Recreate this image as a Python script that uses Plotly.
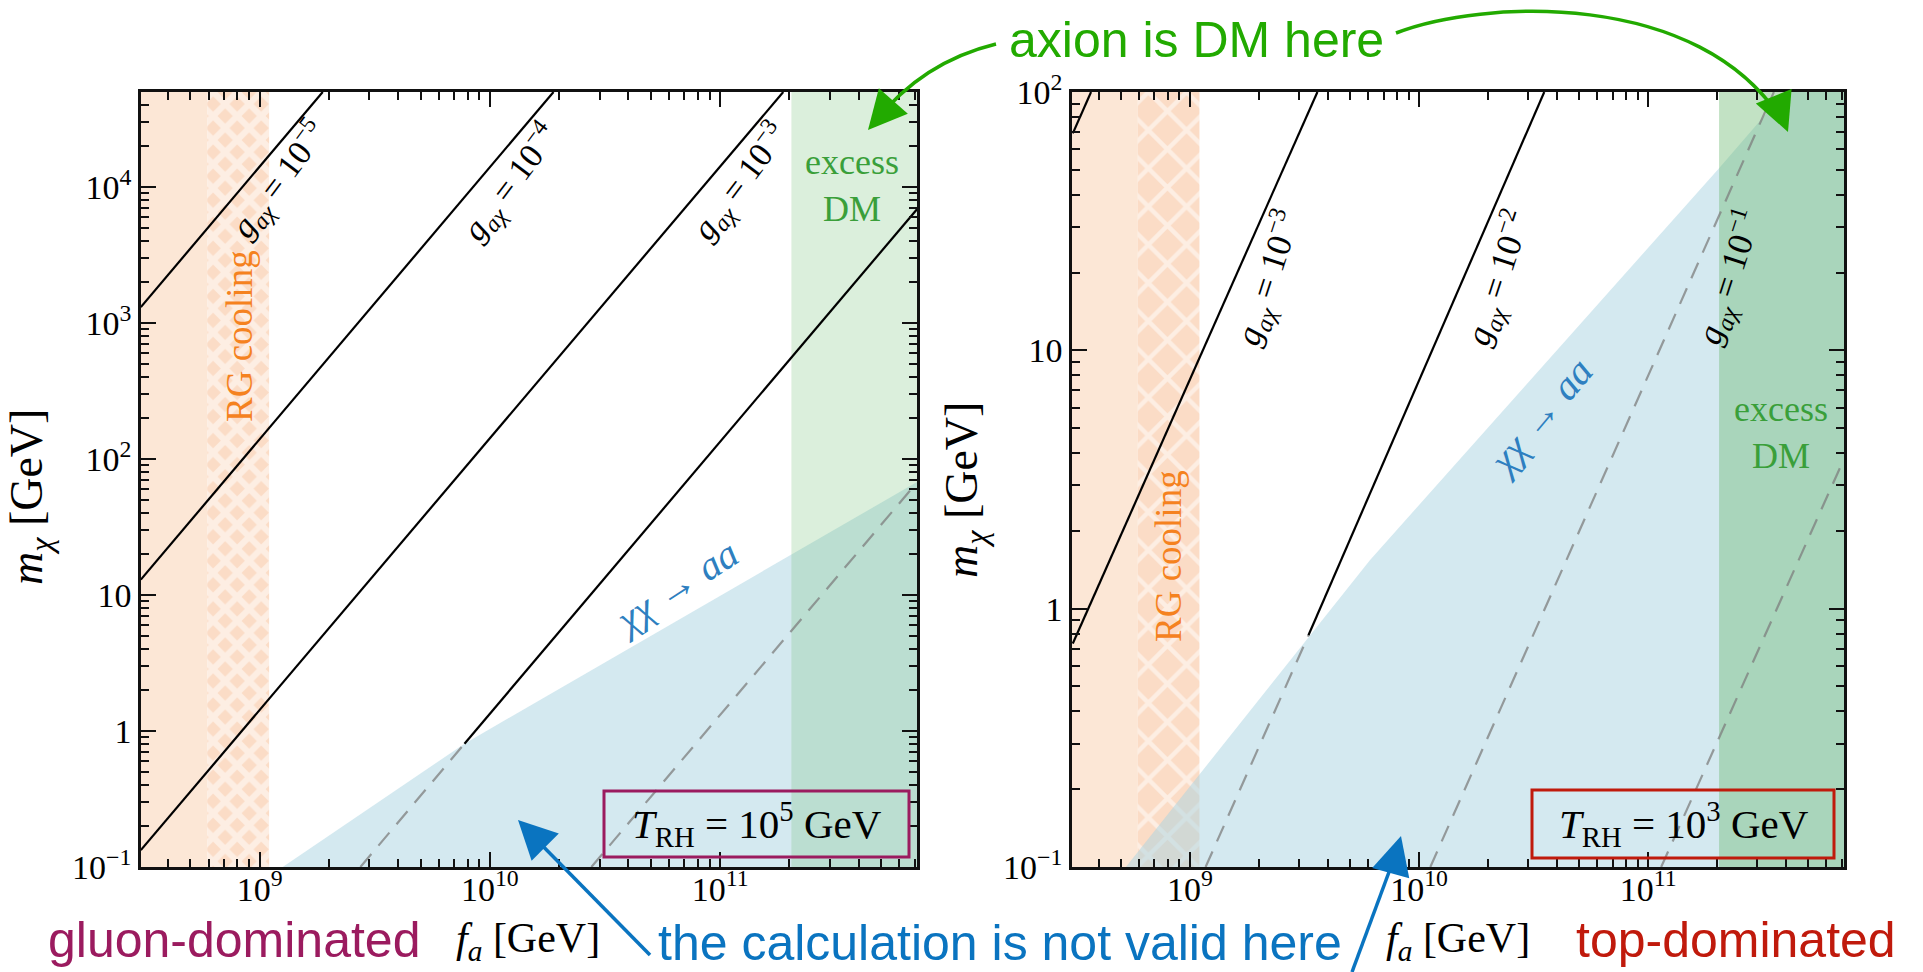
import plotly.graph_objects as go

W, H = 1923, 972

# ---------------- data (GeV units) ----------------
FA_MIN, FA_MAX = 10**8.485, 10**11.855
L_MMIN, L_MMAX = 0.1, 5.0e4
R_MMIN, R_MMAX = 0.1, 100.0

x_tickvals = [1e9, 1e10, 1e11]
x_ticktext = ["10<sup>9</sup>", "10<sup>10</sup>", "10<sup>11</sup>"]
yL_tickvals = [0.1, 1, 10, 100, 1000, 10000]
yL_ticktext = ["10<sup>−1</sup>", "1", "10", "10<sup>2</sup>", "10<sup>3</sup>", "10<sup>4</sup>"]
yR_tickvals = [0.1, 1, 10, 100]
yR_ticktext = ["10<sup>−1</sup>", "1", "10", "10<sup>2</sup>"]

# shaded bands (f_a boundaries)
rg_solid_fa = [FA_MIN, 5.92e8]
rg_hatch_fa = [5.92e8, 1.10e9]
excess_fa = [2.04e11, FA_MAX]

# chi chi -> a a region boundary
blueL_fa = [1.26e9, 7.76e9, 7.16e11, 7.16e11]
blueL_m = [0.1, 0.807, 67.8, 0.1]
blueR_fa = [5.25e8, 6.10e9, 2.04e11, 3.96e11, 7.16e11, 7.16e11]
blueR_m = [0.1, 1.54, 50.7, 100.0, 100.0, 0.1]

# g_{a chi} contours, left panel (T_RH = 1e5 GeV)
left_solid = [
    ([3.05e8, 1.88e9], [1.31e3, 5.0e4]),      # 1e-5
    ([3.05e8, 1.89e10], [13.0, 5.0e4]),       # 1e-4
    ([3.05e8, 1.88e11], [0.133, 5.0e4]),      # 1e-3
    ([7.76e9, 7.16e11], [0.807, 6.87e3]),     # 1e-2
]
left_dashed = [
    ([2.74e9, 7.76e9], [0.1, 0.807]),         # 1e-2
    ([2.76e10, 7.16e11], [0.1, 67.3]),        # 1e-1
]
# right panel (T_RH = 1e3 GeV)
right_solid = [
    ([3.08e8, 3.70e8], [69.2, 100.0]),        # 1e-4
    ([3.08e8, 3.60e9], [0.733, 100.0]),       # 1e-3
    ([3.29e9, 3.52e10], [0.789, 100.0]),      # 1e-2
]
right_dashed = [
    ([1.17e9, 3.29e9], [0.1, 0.789]),         # 1e-2
    ([1.12e10, 3.54e11], [0.1, 100.0]),       # 1e-1
    ([1.14e11, 7.16e11], [0.1, 3.8]),         # 1
]

# ---------------- styles ----------------
SERIF = "Liberation Serif"
SANS = "Liberation Sans"
PEACH = "#fce7d6"
PEACH_H = "#fbdcc6"
BLUE_FILL = "rgba(170,212,226,0.5)"
GREEN_L = "rgba(110,190,115,0.25)"
GREEN_R = "rgba(110,185,115,0.42)"
ORANGE = "#f5821f"
DMGREEN = "#3a9f3a"
CHIBLUE = "#2e7fc0"
ANN_GREEN = "#22aa00"
ANN_BLUE = "#0a74c0"
MAROON = "#9b1b5f"
RED = "#c01a0c"

fig = go.Figure()


def rect(xa, ya, x0, x1, y0, y1, color, pattern=None):
    kw = dict(x=[x0, x1, x1, x0, x0], y=[y0, y0, y1, y1, y0], xaxis=xa, yaxis=ya,
              mode="lines", line=dict(width=0), fill="toself", fillcolor=color,
              hoverinfo="skip", showlegend=False)
    if pattern:
        kw["fillpattern"] = pattern
    fig.add_trace(go.Scatter(**kw))


def poly(xa, ya, xs, ys, color):
    fig.add_trace(go.Scatter(x=xs + [xs[0]], y=ys + [ys[0]], xaxis=xa, yaxis=ya, mode="lines",
                             line=dict(width=0), fill="toself", fillcolor=color,
                             hoverinfo="skip", showlegend=False))


def seg(xa, ya, xs, ys, dashed=False):
    fig.add_trace(go.Scatter(x=xs, y=ys, xaxis=xa, yaxis=ya, mode="lines",
                             line=dict(color="rgba(125,125,125,0.75)" if dashed else "black",
                                       width=2.2, dash="17px,11px" if dashed else "solid"),
                             hoverinfo="skip", showlegend=False))


for xa, ya, ymin, ymax, bfa, bm, gcol, hsize, sol in [
    ("x", "y", L_MMIN, L_MMAX, blueL_fa, blueL_m, GREEN_L, 17, 0.6),
    ("x2", "y2", R_MMIN, R_MMAX, blueR_fa, blueR_m, GREEN_R, 27, 0.3),
]:
    rect(xa, ya, rg_solid_fa[0], rg_solid_fa[1], ymin, ymax, PEACH)
    rect(xa, ya, rg_hatch_fa[0], rg_hatch_fa[1], ymin, ymax, PEACH_H,
         pattern=dict(shape="x", bgcolor=PEACH_H, fgcolor="white", size=hsize, solidity=sol))
    poly(xa, ya, bfa, bm, BLUE_FILL)
    rect(xa, ya, excess_fa[0], excess_fa[1], ymin, ymax, gcol)

for xs, ys in left_dashed:
    seg("x", "y", xs, ys, dashed=True)
for xs, ys in left_solid:
    seg("x", "y", xs, ys)
for xs, ys in right_dashed:
    seg("x2", "y2", xs, ys, dashed=True)
for xs, ys in right_solid:
    seg("x2", "y2", xs, ys)

# ---------------- axes ----------------
minor_x = [m * 10**k for k in range(8, 12) for m in range(2, 10)]
minor_yL = [m * 10**k for k in range(-1, 5) for m in range(2, 10)]
minor_yR = [m * 10**k for k in range(-1, 2) for m in range(2, 10)]


def axis(domain, anchor, rng, tv, tt, minor_vals, standoff=0):
    return dict(type="log", domain=domain, anchor=anchor, range=rng,
                tickmode="array", tickvals=tv, ticktext=tt,
                ticks="inside", ticklen=15, tickwidth=2, tickcolor="#111",
                minor=dict(tickmode="array", tickvals=minor_vals, ticks="inside",
                           ticklen=8, tickwidth=1.6, tickcolor="#111", showgrid=False),
                showline=True, linecolor="#111", linewidth=2.5, mirror="allticks",
                showgrid=False, zeroline=False, automargin=False, layer="above traces",
                ticklabelstandoff=standoff,
                tickfont=dict(family=SERIF, size=34, color="black"), fixedrange=True)


YDOM = [1 - 867 / H, 1 - 92 / H]
XR = [8.485, 11.855]
fig.update_layout(
    xaxis=axis([141 / W, 917 / W], "y", XR, x_tickvals, x_ticktext, minor_x, -10),
    yaxis=axis(YDOM, "x", [-1, 4.699], yL_tickvals, yL_ticktext, minor_yL),
    xaxis2=axis([1072 / W, 1844 / W], "y2", XR, x_tickvals, x_ticktext, minor_x, -10),
    yaxis2=axis(YDOM, "x2", [-1, 2], yR_tickvals, yR_ticktext, minor_yR),
)


def P(x, y):
    return x / W, 1 - y / H


anns = []


def text(x, y, s, size, color="black", family=SERIF, angle=0, **kw):
    px, py = P(x, y)
    anns.append(dict(x=px, y=py, xref="paper", yref="paper", text=s, showarrow=False,
                     textangle=angle, xanchor="center", yanchor="middle",
                     font=dict(family=family, size=size, color=color), **kw))


G = "<i>g</i><sub><i>aχ</i></sub> = 10<sup>−%s</sup>"
text(279, 180, G % "5", 34, angle=-53)
text(511, 182, G % "4", 34, angle=-53)
text(740, 182, G % "3", 34, angle=-53)
text(1267, 278, G % "3", 35, angle=-72)
text(1497, 278, G % "2", 35, angle=-72)
text(1728, 277, G % "1", 35, angle=-72)

text(239, 336, "RG cooling", 37, ORANGE, angle=-90)
text(1168, 556, "RG cooling", 37, ORANGE, angle=-90)
text(852, 186, "excess<br>DM", 36, DMGREEN)
text(1781, 432, "excess<br>DM", 36, DMGREEN)
text(675, 587, "<i>χχ</i> → <i>aa</i>", 40, CHIBLUE, angle=-33)
text(1539, 417, "<i>χχ</i> → <i>aa</i>", 40, CHIBLUE, angle=-50)

text(757, 824, "<i>T</i><sub>RH</sub> = 10<sup>5</sup> GeV", 41)
text(1684, 824, "<i>T</i><sub>RH</sub> = 10<sup>3</sup> GeV", 41)

text(528, 941, "<i>f</i><sub><i>a</i></sub> [GeV]", 42)
text(1458, 941, "<i>f</i><sub><i>a</i></sub> [GeV]", 42)
text(30, 497, "<i>m</i><sub><i>χ</i></sub> [GeV]", 46, angle=-90)
text(965, 490, "<i>m</i><sub><i>χ</i></sub> [GeV]", 46, angle=-90)

text(234, 940, "gluon-dominated", 50, MAROON, SANS)
text(1000, 943, "the calculation is not valid here", 50, ANN_BLUE, SANS)
text(1736, 940, "top-dominated", 50, RED, SANS)
text(1196, 40, "axion is DM here", 50, ANN_GREEN, SANS)


def head(x, y, ax, ay, color):
    px, py = P(x, y)
    anns.append(dict(x=px, y=py, xref="paper", yref="paper", text="", showarrow=True,
                     ax=ax, ay=ay, arrowhead=2, arrowsize=2.2, arrowwidth=3.5,
                     arrowcolor=color, standoff=0))


head(868, 130, 14, -16, ANN_GREEN)
head(1788, 132, -8, -20, ANN_GREEN)
head(518, 820, 14, 14, ANN_BLUE)
head(1401, 836, -5, 18, ANN_BLUE)


def pp(x, y):
    a, b = P(x, y)
    return "%.5f,%.5f" % (a, b)


shapes = [
    dict(type="path", xref="paper", yref="paper",
         path="M" + pp(996, 44) + " Q" + pp(922, 62) + " " + pp(875, 122),
         line=dict(color=ANN_GREEN, width=3.5)),
    dict(type="path", xref="paper", yref="paper",
         path="M" + pp(1396, 33) + " C" + pp(1480, 0) + " " + pp(1700, -12) + " " + pp(1783, 122),
         line=dict(color=ANN_GREEN, width=3.5)),
    dict(type="path", xref="paper", yref="paper",
         path="M" + pp(650, 955) + " L" + pp(525, 828),
         line=dict(color=ANN_BLUE, width=3.5)),
    dict(type="path", xref="paper", yref="paper",
         path="M" + pp(1352, 972) + " L" + pp(1399, 845),
         line=dict(color=ANN_BLUE, width=3.5)),
    dict(type="rect", xref="paper", yref="paper",
         x0=604 / W, x1=909 / W, y0=1 - 857 / H, y1=1 - 791 / H,
         line=dict(color=MAROON, width=3)),
    dict(type="rect", xref="paper", yref="paper",
         x0=1532 / W, x1=1834 / W, y0=1 - 858 / H, y1=1 - 790 / H,
         line=dict(color=RED, width=3)),
]

fig.update_layout(width=W, height=H, margin=dict(l=0, r=0, t=0, b=0),
                  paper_bgcolor="white", plot_bgcolor="white", showlegend=False,
                  annotations=anns, shapes=shapes)

fig.write_html("out.html", config={"displayModeBar": False})
